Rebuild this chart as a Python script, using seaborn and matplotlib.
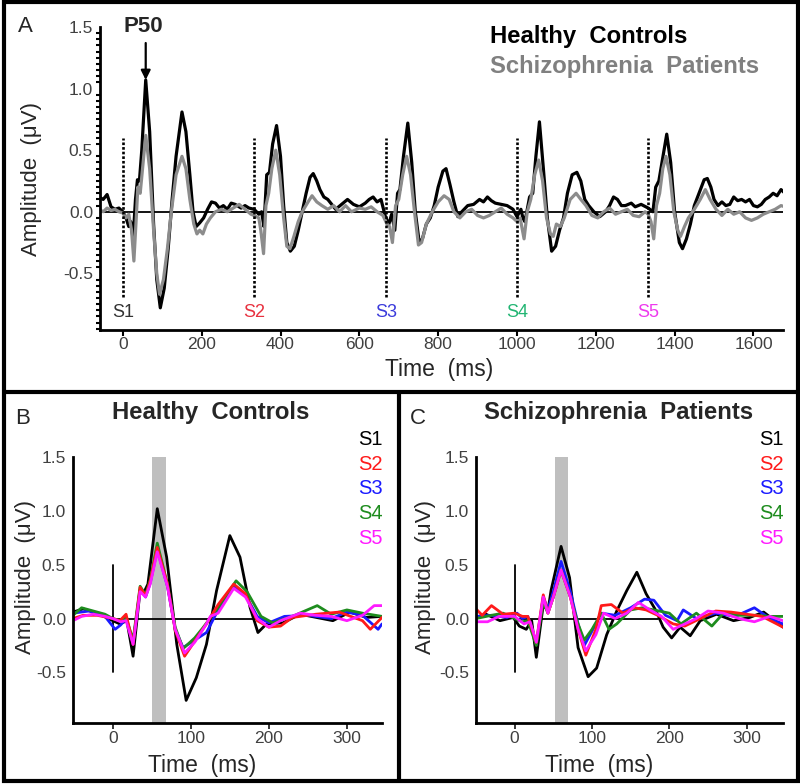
import numpy as np
import pandas as pd
import matplotlib
matplotlib.use("Agg")
import matplotlib.pyplot as plt
import seaborn as sns
from matplotlib.lines import Line2D
from matplotlib.patches import Rectangle
from matplotlib.ticker import MultipleLocator, FormatStrFormatter

sns.set_theme(style="white")
plt.rcParams["font.family"] = ["Liberation Sans", "DejaVu Sans"]

# ---------------- data: panel A (grand averages over the 5-click train) ----------------
hc_time = [-60, -50, -40, -30, -20, -10, 0, 8, 15, 20, 26, 32, 37, 42, 48, 58, 68, 78, 86, 95,
           105, 115, 125, 135, 150, 160, 170, 178, 186, 195, 205, 215, 225, 235, 245, 255, 265,
           275, 285, 300, 310, 320, 333, 345, 352, 358, 365, 372, 380, 390, 400, 408, 416, 425,
           435, 445, 455, 465, 475, 483, 492, 500, 510, 520, 530, 540, 555, 570, 585, 600, 615,
           625, 635, 645, 655, 667, 675, 682, 690, 697, 703, 712, 723, 733, 742, 752, 760, 770,
           780, 790, 800, 812, 820, 830, 840, 850, 860, 875, 890, 905, 915, 925, 935, 945, 960,
           975, 990, 1000, 1010, 1015, 1020, 1025, 1032, 1040, 1048, 1057, 1067, 1077, 1088,
           1098, 1108, 1118, 1128, 1140, 1152, 1162, 1172, 1182, 1195, 1210, 1225, 1235, 1245,
           1255, 1265, 1275, 1290, 1300, 1315, 1333, 1345, 1352, 1360, 1368, 1380, 1390, 1400,
           1412, 1420, 1430, 1440, 1450, 1462, 1475, 1483, 1492, 1500, 1510, 1520, 1530, 1540,
           1550, 1560, 1570, 1580, 1590, 1600, 1610, 1620, 1630, 1640, 1650, 1660, 1670, 1680]
hc_amp = [0.12, 0.10, 0.14, 0.04, 0.02, 0.03, 0.00, -0.05, -0.12, -0.08, -0.22, 0.10, 0.26, 0.25,
          0.50, 1.07, 0.65, -0.10, -0.55, -0.78, -0.62, -0.30, 0.10, 0.45, 0.81, 0.65, 0.30, 0.00,
          -0.12, -0.09, -0.05, 0.02, 0.08, 0.07, 0.03, 0.05, 0.02, 0.07, 0.06, 0.03, 0.05, 0.03,
          0.02, -0.02, 0.00, -0.12, 0.30, 0.32, 0.55, 0.70, 0.45, 0.05, -0.25, -0.32, -0.28, -0.15,
          0.00, 0.15, 0.28, 0.31, 0.25, 0.18, 0.12, 0.10, 0.06, 0.02, 0.06, 0.10, 0.06, 0.04, 0.07,
          0.10, 0.12, 0.08, 0.10, -0.05, -0.10, -0.02, -0.15, 0.15, 0.18, 0.45, 0.72, 0.40, 0.00,
          -0.25, -0.22, -0.10, -0.05, 0.05, 0.20, 0.33, 0.35, 0.22, 0.08, -0.04, 0.00, 0.05, 0.06,
          0.10, 0.08, 0.12, 0.09, 0.07, 0.06, 0.05, 0.02, -0.04, 0.02, -0.05, -0.08, 0.00, 0.12,
          0.15, 0.45, 0.73, 0.35, -0.05, -0.32, -0.28, -0.15, -0.05, 0.15, 0.30, 0.32, 0.25, 0.10,
          0.05, 0.00, -0.04, 0.00, 0.05, 0.12, 0.10, 0.05, 0.05, 0.07, 0.04, 0.06, 0.03, 0.00,
          0.20, 0.25, 0.40, 0.63, 0.40, 0.00, -0.25, -0.30, -0.22, -0.10, 0.05, 0.15, 0.26, 0.27,
          0.20, 0.10, 0.05, 0.08, 0.05, 0.06, 0.12, 0.09, 0.10, 0.08, 0.10, 0.05, 0.04, 0.06, 0.10,
          0.12, 0.15, 0.13, 0.18, 0.15]

sz_time = [-60, -50, -40, -30, -20, -10, 0, 8, 15, 22, 28, 34, 38, 44, 50, 58, 68, 78, 86, 93,
           103, 113, 123, 135, 150, 160, 170, 180, 188, 195, 203, 212, 222, 235, 250, 265, 280,
           295, 310, 325, 333, 345, 350, 357, 363, 370, 378, 388, 398, 408, 416, 424, 434, 445,
           455, 470, 480, 492, 505, 520, 535, 550, 565, 580, 600, 615, 630, 645, 660, 670, 677,
           684, 692, 700, 710, 720, 730, 740, 750, 758, 770, 785, 800, 815, 828, 840, 855, 870,
           885, 900, 915, 930, 945, 960, 975, 990, 1000, 1008, 1018, 1026, 1035, 1045, 1055, 1065,
           1075, 1085, 1092, 1100, 1110, 1120, 1135, 1150, 1162, 1175, 1190, 1205, 1220, 1235,
           1250, 1265, 1280, 1295, 1310, 1325, 1333, 1340, 1347, 1354, 1362, 1370, 1378, 1388,
           1398, 1408, 1415, 1425, 1435, 1450, 1465, 1478, 1490, 1505, 1520, 1535, 1550, 1565,
           1580, 1595, 1610, 1625, 1640, 1655, 1670, 1680]
sz_amp = [0.02, 0.00, 0.03, 0.01, 0.02, 0.00, -0.01, -0.05, -0.02, -0.15, -0.40, -0.05, 0.20,
          0.15, 0.35, 0.62, 0.35, -0.15, -0.50, -0.67, -0.55, -0.30, 0.00, 0.30, 0.45, 0.35, 0.10,
          -0.10, -0.18, -0.15, -0.18, -0.10, -0.05, 0.00, 0.02, 0.00, 0.03, 0.06, 0.02, -0.02,
          -0.03, -0.05, -0.15, -0.34, 0.05, 0.15, 0.35, 0.50, 0.30, -0.05, -0.28, -0.30, -0.20,
          -0.08, 0.00, 0.08, 0.13, 0.08, 0.05, 0.02, 0.05, 0.00, 0.05, 0.00, 0.03, 0.02, 0.04,
          0.00, -0.03, -0.10, -0.12, -0.25, 0.05, 0.10, 0.30, 0.45, 0.30, 0.00, -0.27, -0.25,
          -0.10, 0.00, 0.08, 0.13, 0.10, 0.00, -0.05, 0.00, 0.02, -0.03, -0.05, -0.03, 0.00, 0.03,
          -0.02, -0.05, -0.08, -0.05, -0.22, 0.00, 0.10, 0.30, 0.42, 0.25, -0.05, -0.18, -0.20,
          -0.10, -0.12, -0.05, 0.10, 0.15, 0.10, 0.05, -0.03, -0.05, 0.00, 0.03, -0.02, 0.00, 0.02,
          -0.03, -0.04, 0.00, -0.02, -0.08, -0.22, 0.05, 0.15, 0.35, 0.45, 0.30, 0.00, -0.15,
          -0.20, -0.12, -0.05, 0.02, 0.10, 0.18, 0.10, 0.02, -0.03, 0.02, -0.02, 0.00, -0.05,
          -0.07, -0.05, -0.02, 0.00, 0.02, 0.05, 0.04]

stim_onsets = [0, 333, 667, 1000, 1333]
stim_labels = ["S1", "S2", "S3", "S4", "S5"]
stim_text_colors = ["#333333", "#e8313f", "#3b3bdb", "#22b573", "#ee3aee"]
p50_latency = 58
p50_amp = 1.07

# ---------------- data: panels B and C (single-click responses) ----------------
hc_curves = {
    "S1": ([-51, -38, -17, 0, 9, 18, 26, 35, 39, 45, 57, 69, 82, 94, 107, 120, 133, 150, 163, 176,
            186, 197, 218, 240, 261, 282, 304, 325, 345],
           [0.06, 0.09, 0.04, -0.02, -0.05, -0.02, -0.35, 0.26, 0.23, 0.32, 1.02, 0.57, -0.24,
            -0.76, -0.55, -0.24, 0.26, 0.77, 0.57, 0.10, -0.13, -0.05, -0.04, 0.04, 0.01, -0.02,
            0.06, 0.01, 0.02]),
    "S2": ([-51, -38, -20, 0, 9, 17, 26, 35, 42, 48, 57, 70, 80, 92, 105, 120, 135, 155, 170, 185,
            200, 215, 230, 260, 290, 320, 330, 345],
           [0.00, 0.03, 0.03, 0.00, -0.02, 0.04, -0.24, 0.29, 0.21, 0.35, 0.66, 0.32, -0.11, -0.35,
            -0.21, -0.05, 0.13, 0.32, 0.23, -0.02, -0.08, -0.07, 0.01, 0.04, 0.06, -0.02, -0.10,
            0.01]),
    "S3": ([-51, -30, -10, 3, 10, 17, 26, 35, 42, 48, 57, 70, 80, 90, 105, 120, 135, 155, 170, 185,
            200, 220, 250, 280, 300, 320, 340, 345],
           [0.05, 0.07, 0.02, -0.10, -0.06, 0.00, -0.22, 0.27, 0.20, 0.33, 0.64, 0.30, -0.10,
            -0.27, -0.20, -0.13, 0.08, 0.30, 0.22, 0.02, -0.04, 0.02, 0.03, 0.00, 0.06, 0.03, -0.10,
            -0.05]),
    "S4": ([-51, -40, -30, -10, 0, 10, 17, 26, 35, 42, 48, 57, 70, 80, 90, 105, 115, 135, 158, 172,
            190, 205, 230, 262, 280, 300, 320, 345],
           [0.03, 0.10, 0.08, 0.04, 0.00, -0.02, 0.01, -0.20, 0.30, 0.22, 0.36, 0.70, 0.32, -0.08,
            -0.28, -0.18, -0.09, 0.10, 0.35, 0.25, 0.02, -0.04, 0.02, 0.12, 0.04, 0.08, 0.05, 0.02]),
    "S5": ([-51, -40, -25, -10, 0, 10, 17, 26, 35, 42, 48, 57, 70, 80, 92, 105, 120, 125, 135, 155,
            170, 185, 200, 215, 240, 260, 280, 300, 320, 335, 345],
           [-0.02, 0.02, 0.04, 0.02, 0.00, -0.03, -0.02, -0.24, 0.25, 0.20, 0.32, 0.62, 0.30, -0.10,
            -0.32, -0.22, -0.05, 0.02, 0.05, 0.28, 0.20, 0.00, -0.08, -0.02, 0.05, 0.03, 0.02, -0.02,
            0.03, 0.12, 0.12]),
}
sz_curves = {
    "S1": ([-50, -37, -19, -2, 6, 15, 22, 28, 37, 43, 47, 60, 71, 82, 95, 106, 119, 132, 145, 158,
            170, 183, 192, 203, 214, 227, 240, 261, 283, 304, 322, 347],
           [0.01, 0.04, -0.02, 0.01, -0.07, -0.10, -0.02, -0.36, 0.13, 0.07, 0.26, 0.67, 0.38,
            -0.27, -0.54, -0.46, -0.15, 0.07, 0.26, 0.43, 0.23, 0.07, -0.08, -0.18, -0.08, -0.16,
            -0.02, 0.04, -0.02, 0.01, 0.06, -0.08]),
    "S2": ([-50, -42, -30, -15, 0, 10, 17, 28, 37, 43, 50, 60, 72, 82, 92, 105, 112, 125, 140, 155,
            170, 185, 205, 220, 240, 260, 280, 300, 320, 347],
           [0.09, 0.03, 0.12, 0.04, 0.05, 0.02, 0.02, -0.22, 0.22, 0.05, 0.20, 0.45, 0.20, -0.10,
            -0.34, -0.10, 0.12, 0.13, 0.05, 0.10, 0.08, 0.03, -0.05, -0.07, 0.00, 0.07, 0.06, 0.04,
            0.02, -0.08]),
    "S3": ([-50, -30, -10, 3, 10, 17, 28, 37, 43, 50, 60, 72, 82, 90, 105, 112, 130, 150, 168, 180,
            195, 210, 218, 235, 260, 285, 310, 330, 347],
           [0.02, 0.03, 0.01, 0.05, 0.00, 0.02, -0.24, 0.20, 0.08, 0.25, 0.53, 0.25, -0.05, -0.25,
            -0.05, 0.05, 0.03, 0.10, 0.18, 0.17, 0.03, -0.02, 0.08, 0.00, 0.05, 0.02, 0.10, 0.00,
            -0.05]),
    "S4": ([-50, -30, -15, 0, 10, 17, 28, 37, 43, 50, 60, 72, 82, 90, 100, 112, 122, 132, 150, 165,
            180, 200, 215, 235, 255, 270, 290, 310, 330, 347],
           [0.00, 0.03, 0.05, 0.00, -0.03, -0.02, -0.25, 0.15, 0.05, 0.20, 0.45, 0.20, -0.05, -0.20,
            -0.10, 0.05, -0.10, -0.05, 0.08, 0.10, 0.08, 0.05, -0.05, 0.05, -0.07, 0.05, 0.03, 0.03,
            0.02, 0.02]),
    "S5": ([-50, -35, -20, 0, 12, 20, 28, 37, 43, 50, 60, 72, 82, 92, 105, 115, 130, 145, 160, 175,
            190, 205, 220, 235, 250, 270, 290, 310, 330, 347],
           [-0.03, -0.03, 0.02, 0.02, -0.05, -0.03, -0.22, 0.20, 0.05, 0.20, 0.45, 0.20, -0.10,
            -0.30, -0.15, 0.05, 0.00, 0.05, 0.15, 0.08, 0.02, -0.10, -0.05, 0.00, 0.07, 0.05, 0.00,
            -0.03, 0.02, -0.02]),
}
line_colors = {"S1": "#000000", "S2": "#ff1a1a", "S3": "#1a1aff", "S4": "#1e8c1e", "S5": "#ff1aff"}
draw_order = ["S1", "S3", "S4", "S2", "S5"]
p50_window_hc = [50, 68]
p50_window_sz = [52, 69]
baseline_span = [0, 185]
onset_bar = [-0.5, 0.5]
stim_bar = [-0.69, 0.6]

TICK_COLOR = "#404040"

fig = plt.figure(figsize=(8, 7.84), dpi=100)

# ---------------- panel A ----------------
axA = fig.add_axes([100 / 800, 1 - 330 / 784, 683 / 800, 303 / 784])
sns.lineplot(x=hc_time, y=hc_amp, ax=axA, color="black", lw=2.3, estimator=None, sort=False)
sns.lineplot(x=sz_time, y=sz_amp, ax=axA, color="#8c8c8c", lw=2.3, estimator=None, sort=False)
axA.axhline(0, color="black", lw=1.3, zorder=1)
axA.vlines(stim_onsets, stim_bar[0], stim_bar[1], colors="black", lw=1.9,
           linestyles=[(0, (1, 0.75))])
for t, lab, c in zip(stim_onsets, stim_labels, stim_text_colors):
    axA.text(t, -0.82, lab, color=c, fontsize=13, ha="center", va="center")
axA.set_xlim(-58, 1675)
axA.set_ylim(-0.96, 1.5)
axA.set_xticks(range(0, 1601, 200))
axA.set_yticks([-0.5, 0.0, 0.5, 1.0, 1.5])
axA.yaxis.set_major_formatter(FormatStrFormatter("%.1f"))
axA.yaxis.set_minor_locator(MultipleLocator(0.05))
axA.tick_params(axis="both", which="major", direction="out", length=4, width=1.5,
                labelsize=12.5, labelcolor=TICK_COLOR, pad=1, color="black")
axA.tick_params(axis="y", which="minor", direction="out", length=3, width=1.5, color="black", left=True)
axA.tick_params(axis="x", which="both", bottom=True)
for s in ["top", "right"]:
    axA.spines[s].set_visible(False)
for s in ["left", "bottom"]:
    axA.spines[s].set_linewidth(2)
    axA.spines[s].set_color("black")
axA.set_xlabel("Time  (ms)", fontsize=16.5, va="center")
axA.xaxis.set_label_coords(0.497, -0.132)
axA.set_ylabel("Amplitude  (\u03bcV)", fontsize=16, va="center")
axA.yaxis.set_label_coords(-0.1, 0.5)
axA.text(53, 1.5, "P50", fontsize=16, fontweight="bold", ha="center", va="center")
axA.annotate("", xy=(p50_latency, p50_amp), xytext=(p50_latency, 1.37),
             arrowprops=dict(arrowstyle="-|>", lw=1.6, color="black", mutation_scale=14,
                             shrinkA=0, shrinkB=0))
fig.text(490 / 800, 1 - 37 / 784, "Healthy  Controls", fontsize=17.2, fontweight="bold",
         color="black", ha="left", va="center")
fig.text(490 / 800, 1 - 67 / 784, "Schizophrenia  Patients", fontsize=17.2, fontweight="bold",
         color="#808080", ha="left", va="center")
fig.text(25 / 800, 1 - 27 / 784, "A", fontsize=16, ha="center", va="center")


# ---------------- panels B and C ----------------
def erp_panel(rect, curves, window, xlim, title, title_x, letter, letter_xy, legend_x, ylab_x):
    ax = fig.add_axes(rect)
    ax.axvspan(window[0], window[1], color="#bfbfbf", lw=0, zorder=0)
    ax.plot(baseline_span, [0, 0], color="black", lw=1.3, zorder=1)
    ax.plot([0, 0], onset_bar, color="black", lw=1.3, zorder=1)
    rows = []
    for k in draw_order:
        ts, vs = curves[k]
        for t, v in zip(ts, vs):
            rows.append({"time": t, "amp": v, "stim": k})
    df = pd.DataFrame(rows)
    sns.lineplot(data=df, x="time", y="amp", hue="stim", hue_order=draw_order,
                 palette=line_colors, ax=ax, lw=2.0, estimator=None, legend=False, zorder=2)
    ax.set_xlim(*xlim)
    ax.set_ylim(-0.97, 1.5)
    ax.set_xticks([0, 100, 200, 300])
    ax.set_yticks([-0.5, 0.0, 0.5, 1.0, 1.5])
    ax.yaxis.set_major_formatter(FormatStrFormatter("%.1f"))
    ax.tick_params(axis="x", direction="out", length=4, width=1.3, labelsize=12.5,
                   labelcolor=TICK_COLOR, pad=2, bottom=True)
    ax.tick_params(axis="y", length=0, labelsize=12.5, labelcolor=TICK_COLOR, pad=5)
    for s in ["top", "right"]:
        ax.spines[s].set_visible(False)
    for s in ["left", "bottom"]:
        ax.spines[s].set_linewidth(2)
        ax.spines[s].set_color("black")
    ax.set_xlabel("Time  (ms)", fontsize=16.5, va="center")
    ax.xaxis.set_label_coords(title_x[1], -0.158)
    ax.set_ylabel("Amplitude  (\u03bcV)", fontsize=16, va="center")
    ax.yaxis.set_label_coords(ylab_x, 0.549)
    fig.text(title_x[0] / 800, 1 - 412 / 784, title, fontsize=17.2, fontweight="bold",
             ha="center", va="center")
    fig.text(letter_xy[0] / 800, 1 - letter_xy[1] / 784, letter, fontsize=16,
             ha="center", va="center")
    for i, k in enumerate(stim_labels):
        fig.text(legend_x / 800, 1 - (440 + 24.5 * i) / 784, k, fontsize=14.5,
                 color=line_colors[k], ha="right", va="center")
    return ax


axB = erp_panel([73 / 800, 1 - 723 / 784, 309 / 800, 266 / 784], hc_curves, p50_window_hc,
                (-51, 345), "Healthy  Controls", (211, 0.417), "B", (23, 418), 383, -0.155)
axC = erp_panel([476 / 800, 1 - 723 / 784, 307 / 800, 266 / 784], sz_curves, p50_window_sz,
                (-50, 347), "Schizophrenia  Patients", (619, 0.40), "C", (418, 418), 784, -0.166)

# ---------------- panel frames ----------------
fig.add_artist(Rectangle((4 / 800, 1 - 781 / 784), 794 / 800, 779 / 784, fill=False,
                         lw=3, edgecolor="black", transform=fig.transFigure))
fig.add_artist(Line2D([4 / 800, 798 / 800], [1 - 392 / 784] * 2, lw=3, color="black",
                      transform=fig.transFigure))
fig.add_artist(Line2D([399 / 800] * 2, [1 - 392 / 784, 1 - 781 / 784], lw=3, color="black",
                      transform=fig.transFigure))

fig.savefig("out.png", dpi=100, facecolor="white")
